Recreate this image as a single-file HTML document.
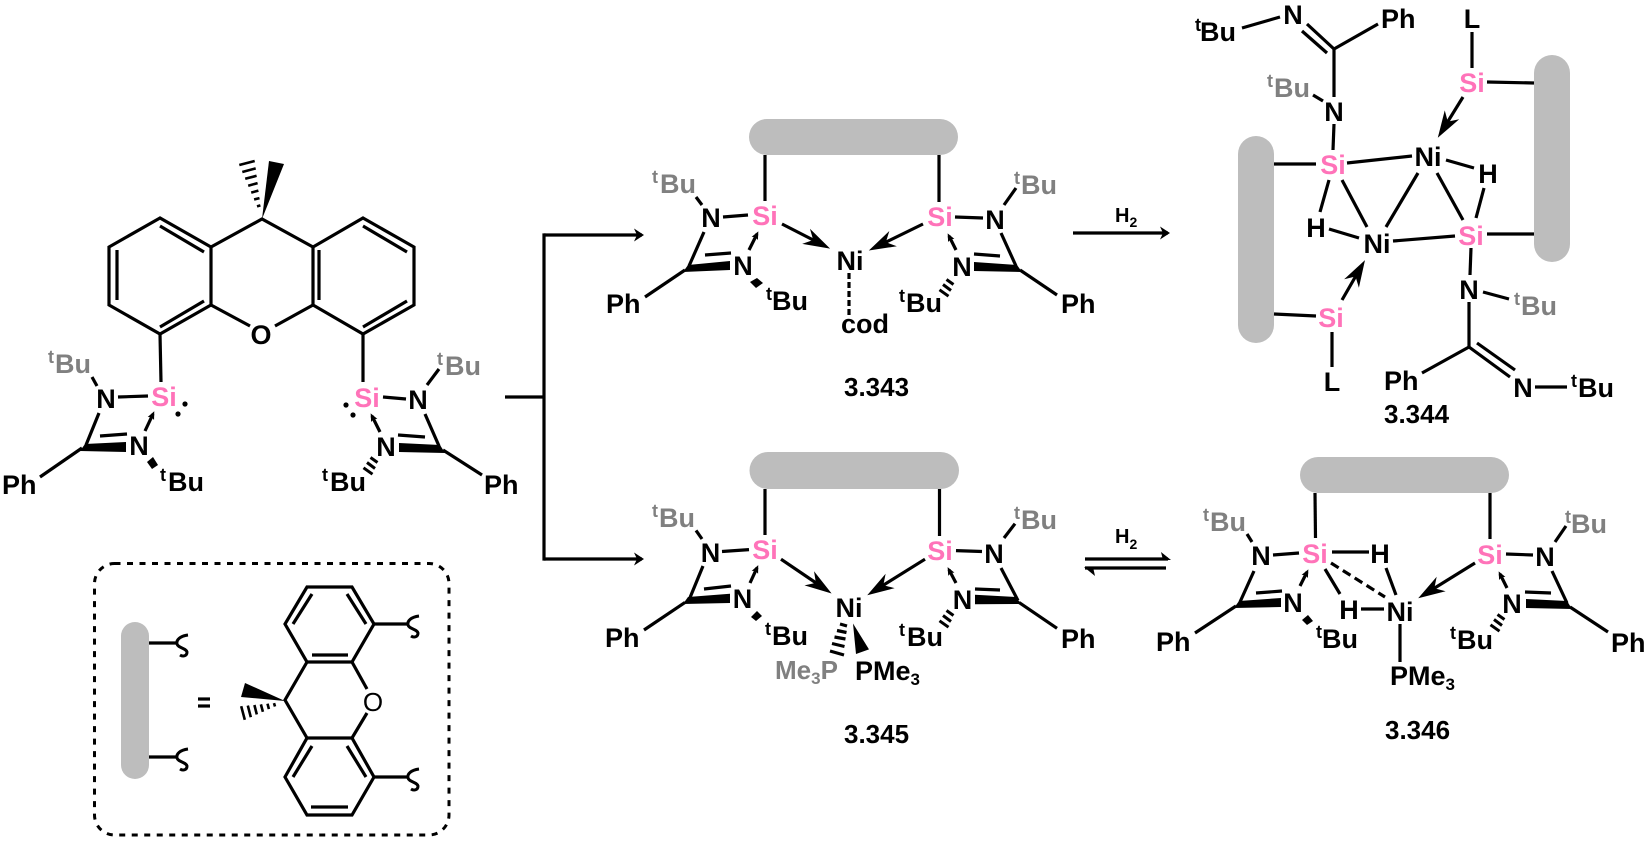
<!DOCTYPE html>
<html><head><meta charset="utf-8"><title>Scheme</title>
<style>
html,body{margin:0;padding:0;background:#fff;width:1650px;height:841px;overflow:hidden}
svg{display:block}
text{font-family:"Liberation Sans",sans-serif;font-weight:bold;font-size:27px;fill:#000}
.m{text-anchor:middle}
.si{fill:#ff73b9;text-anchor:middle}
.g,.g tspan{fill:#808080}
.sup{font-size:18px}
.sub{font-size:17px}
.lab{font-size:26px}
.b line,.b path,.b polyline,.b polygon.o{stroke:#000;stroke-width:3.2;fill:none}
.f{fill:#000;stroke:none}
.bar{fill:#bdbdbd}
</style></head><body>
<svg width="1650" height="841" viewBox="0 0 1650 841" xmlns="http://www.w3.org/2000/svg">
<defs>
<marker id="big" markerUnits="userSpaceOnUse" markerWidth="1" markerHeight="1" refX="0" refY="0" orient="auto" overflow="visible"><path d="M8,0 L-19,-8.5 L-11,0 L-19,8.5 Z" fill="#000"/></marker>
<marker id="sm" markerUnits="userSpaceOnUse" markerWidth="1" markerHeight="1" refX="0" refY="0" orient="auto" overflow="visible"><path d="M3,0 L-5,-3.5 L-3.5,0 L-5,3.5 Z" fill="#000"/></marker>
<marker id="rx" markerUnits="userSpaceOnUse" markerWidth="1" markerHeight="1" refX="0" refY="0" orient="auto" overflow="visible"><path d="M2,0 L-8,-6.5 L-5,0 L-8,6.5 Z" fill="#000"/></marker>
<path id="h" d="M-3.5,-2.5 L3.5,2.5 M-7,2.5 L1,8.5 M-10.5,7.8 L-1.5,14.2" stroke="#000" stroke-width="3" fill="none"/>
<path id="sq" d="M11,-8 C3,-7 -1,-3 0,1 C1,5 9,5 10,9 C10,13 6,14 3,12" stroke="#000" stroke-width="3" fill="none"/>
</defs>

<!-- starting ligand -->
<g class="b">
<polygon class="o" points="160,218 109,247 109,305 160,334 211,305 211,247" stroke-linejoin="miter"/>
<polygon class="o" points="363,218 414,247 414,305 363,334 313,305 313,247"/>
<line x1="160" y1="226" x2="204" y2="252"/><line x1="117" y1="250" x2="117" y2="300"/><line x1="160" y1="327" x2="204" y2="301"/>
<line x1="319" y1="250" x2="319" y2="300"/><line x1="363" y1="226" x2="407" y2="252"/><line x1="363" y1="327" x2="407" y2="301"/>
<polyline points="211,247 262,219 313,247"/>
<line x1="211" y1="305" x2="250" y2="326"/><line x1="313" y1="305" x2="275" y2="326"/>
<path d="M239.3,165 L254.7,161 M242.3,172 L255.7,168.4 M245.2,178.8 L256.6,175.8 M248.2,185.7 L257.6,183.1 M251.2,192.6 L258.4,190.6 M254.1,199.5 L259.5,198.1 M257,206.4 L260.4,205.4" style="stroke-width:2.6"/>
<line x1="160" y1="334" x2="161" y2="382"/><line x1="363" y1="334" x2="363" y2="382"/>
<line x1="118" y1="397" x2="148" y2="396"/><line x1="92" y1="377" x2="97" y2="386"/>
<line x1="99" y1="413" x2="86" y2="445"/><line x1="100" y1="436" x2="127" y2="434"/>
<line x1="82" y1="448" x2="40" y2="477"/>
<line x1="145" y1="431" x2="153" y2="414" marker-end="url(#sm)"/>
<line x1="383" y1="397" x2="406" y2="399"/><line x1="427" y1="385" x2="439" y2="369"/>
<line x1="425" y1="414" x2="439" y2="446"/><line x1="398" y1="435" x2="425" y2="437"/>
<line x1="443" y1="450" x2="482" y2="475"/>
<line x1="380" y1="432" x2="372" y2="416" marker-end="url(#sm)"/>
</g>
<polygon class="f" points="262,219 269,161 284,164"/>
<polygon class="f" points="85,444 126,442 126,452 80,451"/>
<polygon class="f" points="147,462 153,457 158,465 152,469"/>
<polygon class="f" points="440,445 399,443 399,452 445,453"/>
<use href="#h" x="374" y="460"/>
<circle class="f" cx="185" cy="404" r="2.6"/><circle class="f" cx="178" cy="414" r="2.6"/>
<circle class="f" cx="346" cy="405" r="2.6"/><circle class="f" cx="353" cy="415" r="2.6"/>
<text x="261" y="344" class="m">O</text>
<text x="164" y="406" class="si">Si</text><text x="367" y="407" class="si">Si</text>
<text x="106" y="408" class="m">N</text><text x="139" y="455" class="m">N</text>
<text x="418" y="409" class="m">N</text><text x="386" y="456" class="m">N</text>
<text x="48" y="373" class="g"><tspan class="sup" dy="-10">t</tspan><tspan x="55" dy="10">Bu</tspan></text>
<text x="437" y="375" class="g"><tspan class="sup" dy="-10">t</tspan><tspan x="445" dy="10">Bu</tspan></text>
<text x="160" y="491"><tspan class="sup" dy="-10">t</tspan><tspan x="168" dy="10">Bu</tspan></text>
<text x="322" y="491"><tspan class="sup" dy="-10">t</tspan><tspan x="330" dy="10">Bu</tspan></text>
<text x="2" y="494">Ph</text><text x="484" y="494">Ph</text>

<!-- branch arrows -->
<g class="b">
<line x1="505" y1="397" x2="544" y2="397"/>
<line x1="544" y1="233.4" x2="544" y2="560.6"/>
<line x1="544" y1="235" x2="642" y2="235" marker-end="url(#rx)"/>
<line x1="544" y1="559" x2="642" y2="559" marker-end="url(#rx)"/>
<line x1="1073" y1="233" x2="1168" y2="233" marker-end="url(#rx)"/>
<line x1="1085" y1="559" x2="1168" y2="559"/><line x1="1085" y1="568" x2="1166" y2="568"/>
</g>
<polygon class="f" points="1171,560 1161,552 1163,560"/>
<polygon class="f" points="1084,567 1095,576 1093,567"/>
<text x="1115" y="222" style="font-size:20px">H<tspan style="font-size:14px" dy="5">2</tspan></text>
<text x="1115" y="543" style="font-size:20px">H<tspan style="font-size:14px" dy="6">2</tspan></text>

<!-- 3.343 -->
<rect class="bar" x="749" y="119" width="209" height="36" rx="18"/>
<g class="b">
<line x1="765" y1="155" x2="765" y2="201"/><line x1="939" y1="155" x2="939" y2="202"/>
<line x1="723" y1="217" x2="748" y2="215"/><line x1="696" y1="197" x2="702" y2="205"/>
<line x1="704" y1="232" x2="689" y2="266"/><line x1="705" y1="255" x2="731" y2="253"/>
<line x1="685" y1="270" x2="645" y2="297"/>
<line x1="749" y1="250" x2="757" y2="234" marker-end="url(#sm)"/>
<line x1="782" y1="224" x2="823" y2="245" marker-end="url(#big)"/>
<line x1="923" y1="224" x2="876" y2="247" marker-end="url(#big)"/>
<line x1="849" y1="273" x2="849" y2="316" stroke-dasharray="6 3"/>
<line x1="955" y1="217" x2="983" y2="218"/><line x1="1004" y1="205" x2="1016" y2="188"/>
<line x1="1001" y1="233" x2="1016" y2="266"/><line x1="974" y1="254" x2="1000" y2="256"/>
<line x1="1020" y1="270" x2="1057" y2="295"/>
<line x1="956" y1="250" x2="949" y2="236" marker-end="url(#sm)"/>
</g>
<polygon class="f" points="688,265 730,261 730,270 683,272"/>
<polygon class="f" points="750,282 757,278 763,283 756,288"/>
<polygon class="f" points="1017,265 974,262 974,271 1022,272"/>
<use href="#h" x="950" y="282"/>
<text x="765" y="225" class="si">Si</text><text x="940" y="226" class="si">Si</text>
<text x="711" y="227" class="m">N</text><text x="743" y="275" class="m">N</text>
<text x="995" y="229" class="m">N</text><text x="962" y="276" class="m">N</text>
<text x="850" y="270" class="m">Ni</text>
<text x="841" y="333" style="font-size:27px">cod</text>
<text x="652" y="193" class="g"><tspan class="sup" dy="-10">t</tspan><tspan x="660" dy="10">Bu</tspan></text>
<text x="1014" y="194" class="g"><tspan class="sup" dy="-10">t</tspan><tspan x="1021" dy="10">Bu</tspan></text>
<text x="766" y="310"><tspan class="sup" dy="-10">t</tspan><tspan x="772" dy="10">Bu</tspan></text>
<text x="899" y="312"><tspan class="sup" dy="-10">t</tspan><tspan x="906" dy="10">Bu</tspan></text>
<text x="606" y="313">Ph</text><text x="1061" y="313">Ph</text>
<text x="844" y="396" class="lab">3.343</text>

<!-- 3.344 -->
<rect class="bar" x="1238" y="136" width="36" height="207" rx="18"/>
<rect class="bar" x="1534" y="55" width="36" height="207" rx="18"/>
<g class="b">
<line x1="1242" y1="28" x2="1280" y2="17"/>
<line x1="1307" y1="24" x2="1334" y2="49"/><line x1="1302" y1="31" x2="1327" y2="53"/>
<line x1="1334" y1="49" x2="1378" y2="24"/><line x1="1334" y1="49" x2="1334" y2="97"/>
<line x1="1313" y1="95" x2="1323" y2="101"/><line x1="1334" y1="124" x2="1333" y2="150"/>
<line x1="1274" y1="164" x2="1316" y2="164"/><line x1="1347" y1="163" x2="1412" y2="156"/>
<line x1="1446" y1="160" x2="1474" y2="168"/><line x1="1484" y1="188" x2="1476" y2="218"/>
<line x1="1437" y1="173" x2="1463" y2="220"/><line x1="1418" y1="173" x2="1386" y2="227"/>
<line x1="1342" y1="180" x2="1367" y2="227"/><line x1="1329" y1="180" x2="1320" y2="212"/>
<line x1="1329" y1="229" x2="1359" y2="238"/><line x1="1393" y1="241" x2="1455" y2="236"/>
<line x1="1487" y1="234" x2="1534" y2="234"/><line x1="1471" y1="248" x2="1470" y2="275"/>
<line x1="1483" y1="292" x2="1509" y2="299"/><line x1="1469" y1="302" x2="1469" y2="347"/>
<line x1="1469" y1="347" x2="1422" y2="373"/>
<line x1="1477" y1="343" x2="1515" y2="370"/><line x1="1469" y1="347" x2="1510" y2="377"/>
<line x1="1535" y1="387" x2="1567" y2="387"/>
<line x1="1472" y1="32" x2="1472" y2="68"/><line x1="1487" y1="82" x2="1534" y2="83"/>
<line x1="1463" y1="97" x2="1442" y2="131" marker-end="url(#big)"/>
<line x1="1342" y1="300" x2="1361" y2="267" marker-end="url(#big)"/>
<line x1="1274" y1="314" x2="1316" y2="316"/><line x1="1332" y1="332" x2="1332" y2="367"/>
</g>
<text x="1195" y="41"><tspan class="sup" dy="-10">t</tspan><tspan x="1200" dy="10">Bu</tspan></text>
<text x="1293" y="24" class="m">N</text><text x="1381" y="28">Ph</text>
<text x="1267" y="97" class="g"><tspan class="sup" dy="-10">t</tspan><tspan x="1274" dy="10">Bu</tspan></text>
<text x="1334" y="121" class="m">N</text>
<text x="1333" y="174" class="si">Si</text><text x="1428" y="166" class="m">Ni</text>
<text x="1488" y="183" class="m">H</text><text x="1471" y="245" class="si">Si</text>
<text x="1316" y="237" class="m">H</text><text x="1377" y="253" class="m">Ni</text>
<text x="1469" y="299" class="m">N</text>
<text x="1514" y="315" class="g"><tspan class="sup" dy="-10">t</tspan><tspan x="1521" dy="10">Bu</tspan></text>
<text x="1384" y="390">Ph</text><text x="1523" y="397" class="m">N</text>
<text x="1571" y="397"><tspan class="sup" dy="-10">t</tspan><tspan x="1578" dy="10">Bu</tspan></text>
<text x="1472" y="92" class="si">Si</text><text x="1472" y="28" class="m">L</text>
<text x="1331" y="327" class="si">Si</text><text x="1332" y="391" class="m">L</text>
<text x="1384" y="423" class="lab">3.344</text>

<!-- 3.345 -->
<rect class="bar" x="749.5" y="452" width="209.5" height="37" rx="18.5"/>
<g class="b">
<line x1="765" y1="489" x2="765" y2="535"/><line x1="939.5" y1="489" x2="939.5" y2="536"/>
<line x1="722" y1="551.5" x2="749" y2="549.6"/><line x1="696" y1="530.4" x2="702" y2="539"/>
<line x1="703" y1="566" x2="690" y2="597.6"/><line x1="704" y1="589" x2="731" y2="586"/>
<line x1="685" y1="602.4" x2="644" y2="630"/>
<line x1="750" y1="583" x2="757" y2="567.8" marker-end="url(#sm)"/>
<line x1="781" y1="559.2" x2="825" y2="589" marker-end="url(#big)"/>
<line x1="925" y1="559.2" x2="874" y2="591" marker-end="url(#big)"/>
<line x1="956" y1="550.6" x2="982" y2="551.5"/><line x1="1004" y1="538" x2="1015" y2="523.7"/>
<line x1="1001" y1="568" x2="1018" y2="600.5"/><line x1="975" y1="589" x2="1000" y2="590"/>
<line x1="1019" y1="602.4" x2="1057" y2="628.3"/>
<line x1="956" y1="583" x2="949" y2="569.8" marker-end="url(#sm)"/>
<path d="M840,624 L847,626 M837,630.5 L846.5,632.5 M834.5,637 L845.5,639 M832,643.5 L844.5,646.5 M830,651 L844,655"/>
</g>
<polygon class="f" points="688,597 730,593.8 730,603 683,604"/>
<polygon class="f" points="751,617 757,611 762,616 756,621"/>
<polygon class="f" points="1016,597 975,594.7 975,604.3 1021,604"/>
<polygon class="f" points="853,623.5 856,654 869,649.4"/>
<use href="#h" x="950" y="613"/>
<text x="765" y="559" class="si">Si</text><text x="940" y="560" class="si">Si</text>
<text x="710.5" y="562" class="m">N</text><text x="742.5" y="608" class="m">N</text>
<text x="994" y="563" class="m">N</text><text x="962.5" y="609" class="m">N</text>
<text x="849" y="617" class="m">Ni</text>
<text x="652" y="527" class="g"><tspan class="sup" dy="-10">t</tspan><tspan x="659" dy="10">Bu</tspan></text>
<text x="1014" y="529" class="g"><tspan class="sup" dy="-10">t</tspan><tspan x="1021" dy="10">Bu</tspan></text>
<text x="765" y="645"><tspan class="sup" dy="-10">t</tspan><tspan x="772" dy="10">Bu</tspan></text>
<text x="899" y="646"><tspan class="sup" dy="-10">t</tspan><tspan x="907" dy="10">Bu</tspan></text>
<text x="605" y="647">Ph</text><text x="1061" y="648">Ph</text>
<text x="775" y="679" class="g" style="font-size:26px">Me<tspan class="sub" dy="5">3</tspan><tspan dy="-5">P</tspan></text>
<text x="855" y="680">PMe<tspan class="sub" dy="5">3</tspan></text>
<text x="844" y="743" class="lab">3.345</text>

<!-- 3.346 -->
<rect class="bar" x="1300" y="457" width="209" height="36" rx="18"/>
<g class="b">
<line x1="1315" y1="493" x2="1315.5" y2="538"/><line x1="1490" y1="493" x2="1490" y2="539"/>
<line x1="1273" y1="555" x2="1299" y2="553"/><line x1="1247" y1="534" x2="1252" y2="542"/>
<line x1="1254" y1="571" x2="1240" y2="602"/><line x1="1256" y1="593" x2="1282" y2="591"/>
<line x1="1236" y1="606" x2="1195" y2="633"/>
<line x1="1300" y1="586" x2="1307" y2="572" marker-end="url(#sm)"/>
<line x1="1332" y1="552" x2="1369" y2="552"/><line x1="1386" y1="568" x2="1396" y2="595"/>
<line x1="1325" y1="569" x2="1340" y2="594"/>
<line x1="1331" y1="563" x2="1385" y2="597" stroke-dasharray="9 5"/>
<line x1="1361" y1="609" x2="1384" y2="609"/><line x1="1400" y1="624" x2="1400" y2="662"/>
<line x1="1475" y1="563" x2="1425" y2="594" marker-end="url(#big)"/>
<line x1="1506" y1="554" x2="1533" y2="555"/><line x1="1555" y1="542" x2="1566" y2="526"/>
<line x1="1552" y1="571" x2="1567" y2="603"/><line x1="1525" y1="592" x2="1551" y2="593"/>
<line x1="1570" y1="607" x2="1608" y2="632"/>
<line x1="1507" y1="588" x2="1500" y2="574" marker-end="url(#sm)"/>
</g>
<polygon class="f" points="1239,601 1281,598 1281,607 1234,608"/>
<polygon class="f" points="1302,620 1308,615 1313,621 1307,625"/>
<polygon class="f" points="1567,601 1526,599 1526,608 1572,609"/>
<use href="#h" x="1501" y="617"/>
<text x="1315" y="563" class="si">Si</text><text x="1490" y="564" class="si">Si</text>
<text x="1261" y="565" class="m">N</text><text x="1293" y="612" class="m">N</text>
<text x="1380" y="563" class="m">H</text><text x="1349" y="619" class="m">H</text>
<text x="1400" y="621" class="m">Ni</text>
<text x="1545" y="566" class="m">N</text><text x="1512" y="613" class="m">N</text>
<text x="1203" y="531" class="g"><tspan class="sup" dy="-10">t</tspan><tspan x="1210" dy="10">Bu</tspan></text>
<text x="1565" y="533" class="g"><tspan class="sup" dy="-10">t</tspan><tspan x="1571" dy="10">Bu</tspan></text>
<text x="1316" y="648"><tspan class="sup" dy="-10">t</tspan><tspan x="1322" dy="10">Bu</tspan></text>
<text x="1450" y="649"><tspan class="sup" dy="-10">t</tspan><tspan x="1457" dy="10">Bu</tspan></text>
<text x="1156" y="651">Ph</text><text x="1611" y="652">Ph</text>
<text x="1390" y="685">PMe<tspan class="sub" dy="5">3</tspan></text>
<text x="1385" y="739" class="lab">3.346</text>

<!-- legend box -->
<rect x="94.5" y="563.5" width="354.5" height="271.5" rx="20" fill="none" stroke="#000" stroke-width="3" stroke-dasharray="6 6.5"/>
<rect class="bar" x="121" y="622" width="28" height="157" rx="14"/>
<g class="b">
<line x1="149" y1="643" x2="177" y2="643"/><line x1="149" y1="757" x2="177" y2="757"/>
<polygon class="o" points="307,587 352,587 374,624 352,662 307,662 285,624"/>
<line x1="293" y1="624" x2="312" y2="594"/><line x1="347" y1="594" x2="366" y2="624"/><line x1="312" y1="655" x2="348" y2="655"/>
<polygon class="o" points="307,738 352,738 374,777 352,815 307,815 285,777"/>
<line x1="312" y1="746" x2="293" y2="777"/><line x1="347" y1="746" x2="366" y2="777"/><line x1="311" y1="807" x2="348" y2="807"/>
<polyline points="307,662 285,700 307,738"/>
<line x1="352" y1="662" x2="367" y2="689"/><line x1="367" y1="713" x2="352" y2="738"/>
<line x1="374" y1="624" x2="408" y2="624"/><line x1="374" y1="777" x2="408" y2="777"/>
<line x1="198" y1="699" x2="210" y2="699"/><line x1="198" y1="706" x2="210" y2="706"/>
<path d="M241.2,706.2 L244.8,719.8 M247.8,705.6 L250.8,717.2 M254.4,705 L256.8,714.4 M260.9,704.4 L262.9,711.8 M267.5,703.7 L268.9,709.1 M274,703.1 L275,706.5" style="stroke-width:2.6"/>
</g>
<polygon class="f" points="285,701 245,683 241,697"/>
<use href="#sq" x="177" y="643"/><use href="#sq" x="177" y="757"/>
<use href="#sq" x="408" y="624"/><use href="#sq" x="408" y="777"/>
<text x="373" y="711" class="m" style="font-weight:normal;font-size:26px">O</text>
</svg>
</body></html>
